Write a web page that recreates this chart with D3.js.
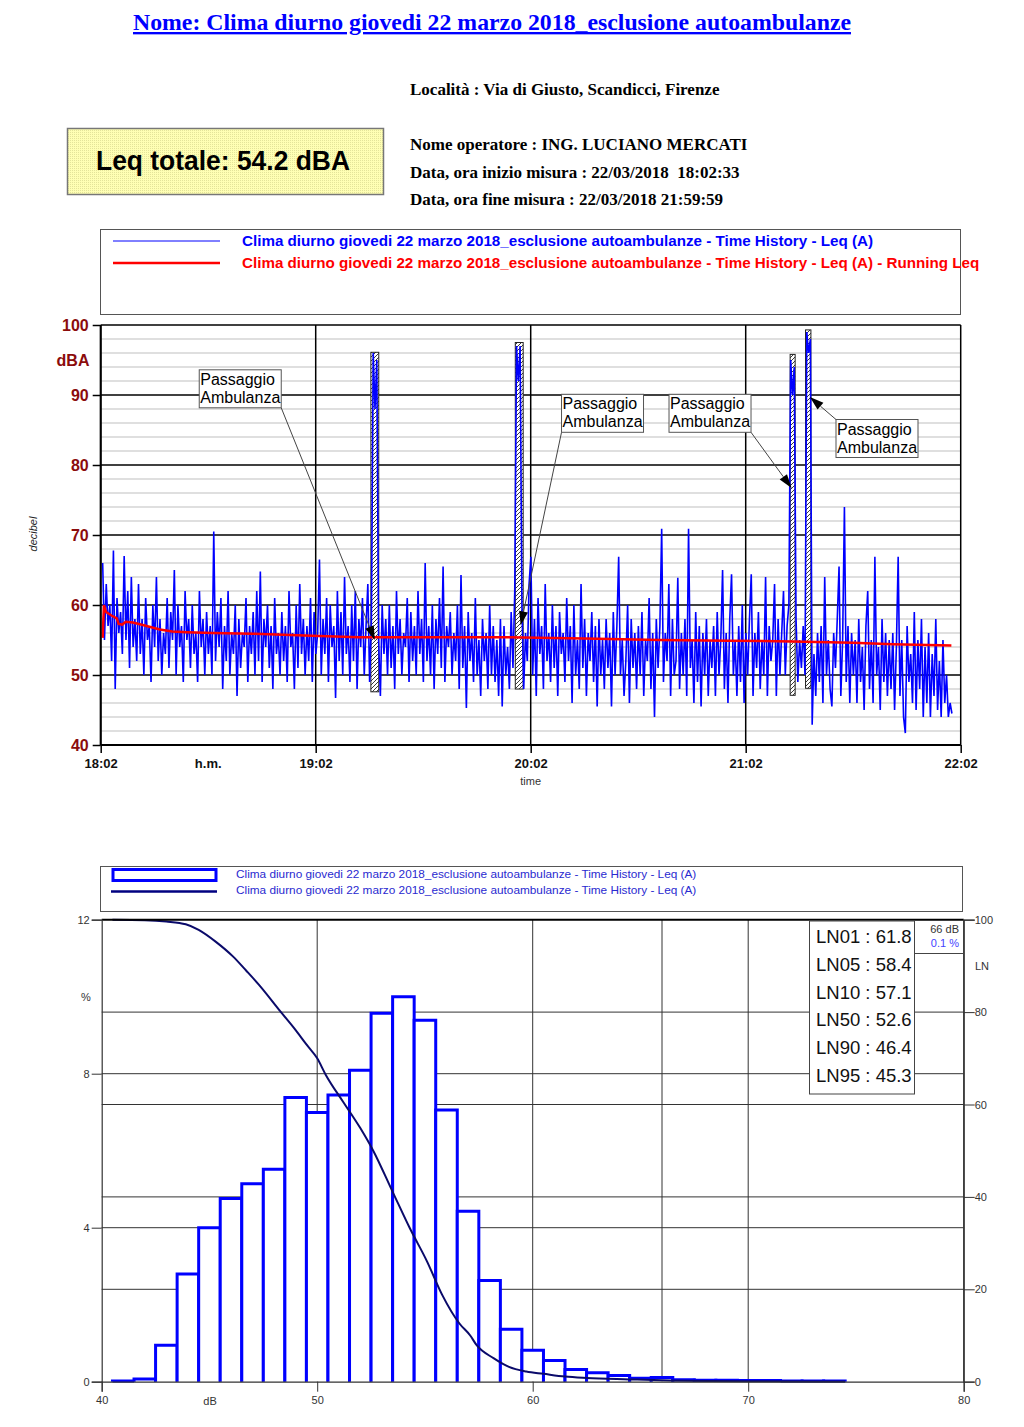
<!DOCTYPE html>
<html><head><meta charset="utf-8">
<script src="https://cdn.jsdelivr.net/npm/d3@7"></script>
<style>body{margin:0;background:#fff}svg{display:block}</style>
</head><body><svg id="c" width="1024" height="1427"></svg>
<script>
// ---------------- DATA ----------------
const titleText = "Nome: Clima diurno giovedi 22 marzo 2018_esclusione autoambulanze";
const infoLines = [
  "Località : Via di Giusto, Scandicci, Firenze",
  "Nome operatore : ING. LUCIANO MERCATI",
  "Data, ora inizio misura : 22/03/2018  18:02:33",
  "Data, ora fine misura : 22/03/2018 21:59:59"
];
const leqTotalText = "Leq totale: 54.2 dBA";
const seriesName = "Clima diurno giovedi 22 marzo 2018_esclusione autoambulanze - Time History - Leq (A)";
const runningName = seriesName + " - Running Leq";

// time axis: minutes after 18:02
const timeTickMinutes = [0, 60, 120, 180, 240];
const timeTickLabels = ["18:02", "19:02", "20:02", "21:02", "22:02"];
const dbTicksTop = [40, 50, 60, 70, 80, 90, 100];

// Time history Leq(A), one value every 30 s from 18:02:33
const thStartMin = 0.55, thStepMin = 0.5;
const thLeq = [
 66,55,63,57,60,52,67.8,48,61,56,59,53,67,55,62,51,64,54,58,52,
 63,53,58,50,61,55,57,49,60,54,64,52,58,50,56,53,61,51,59,55,
 65,50,60,54,57,49,62,55,58,51,60,53,56,49,62,54,58,50,59,53,
 57,50,70.5,52,59,54,61,48,57,52,62,50,56,53,60,47,58,51,56,54,
 61,49,57,53,59,50,62,52,64.8,49,58,54,60,51,57,48,61,53,56,50,
 59,52,57,49,62,54,56,48,60,51,63,53,58,50,57,52,61,49,59,53,
 56,66.5,50,58,53,61,49,60,54,57,46.7,62,52,59,50,64,53,57,49,60,
 52,62,48,58,54,61,50,57,63,49,58,96,88,95,55,47,60,53,58,50,
 60,51,57,48,62,53,58,50,56,54,61,49,59,52,57,50,62,53,58,49,
 66,52,57,50,60,48,58,53,61,51,65.5,49,57,54,59,50,56,52,60,48,
 64.3,51,57,45.3,59,52,56,49,61,50,55,47,58,52,56,48,60,50,57,49,
 55,47,58,45.5,57,50,54,48,59,51,62,97,92,97,60,48,56,52,63,66.9,
 50,58,47,61,53,57,48,63,52,56,49,60,51,57,47,59,53,56,49,61,
 52,57,46,60,50,55,48,63,51,58,47,56,52,59,49,57,45.5,58,50,55,
 48,58,51,56,45.5,59,50,57,66.9,50,55,47,52,60,46,58,51,56,48,57,
 50,59,47,55,52,61,48,56,44,58,51,57,70.9,49,56,52,63,47,58,50,
 52,63.9,48,56,50,58,47,70.9,51,55,46,59,49,57,45.5,56,50,58,47,55,
 51,57,47,59,50,55,65,48,56,46,58,64.4,50,55,47,57,49,60,46,56,
 50,58,64.4,47,56,51,59,48,55,50,64,47,57,52,55,63,47,58,50,56,
 62,50,57,60,95,90,94,58,49,55,51,57,50,99,96,98,42.9,53,47,56,
 49,57,46,64,50,55,48,45.5,56,51,58,65.5,47,55,74,49,57,46,56,50,
 55,46,58,49,54,45,57,62,48,55,46,66.9,50,54,45,58,49,56,47,55,
 48,56,45,54,66.9,47,55,44,41.7,57,49,53,46,59,45,55,48,58,44,54,
 46,56,44,53,47,58,45,52,44,55,46,50,44,46,44.5
];

// Running Leq
const runLeqMin = [0.55,0.9,1.5,3.0,4.5,5.0,6.0,7.0,9.0,12,16.5,20,24,31.3,42.5,59,72,90,113,135,156,175,193,210,221,237.4];
const runLeqVal = [55.3,60.0,59.0,58.5,58.1,57.3,57.2,57.6,57.5,57.1,56.5,56.2,56.1,56.0,55.9,55.6,55.4,55.4,55.4,55.2,55.0,54.9,54.8,54.6,54.4,54.2];

// Excluded (ambulance) periods
const exclStartMin = [75.4, 115.7, 192.4, 196.7];
const exclEndMin   = [77.6, 117.9, 193.8, 198.2];
const exclMinDb    = [47.6, 48.0, 47.1, 48.1];
const exclMaxDb    = [96.1, 97.5, 95.8, 99.3];

// Annotations "Passaggio Ambulanza"
const annLines = ["Passaggio", "Ambulanza"];
const annBoxMin   = [27.5, 128.6, 158.6, 205.2];
const annBoxDb    = [93.6, 90.1, 90.1, 86.5];
const annCorner   = ["br", "bl", "br", "tl"];
const annArrowMin = [76.5, 117.2, 192.8, 197.9];
const annArrowDb  = [55.0, 57.1, 76.7, 89.7];

// Histogram (1 dB classes)
const histDb  = [41,42,43,44,45,46,47,48,49,50,51,52,53,54,55,56,57,58,59,60,61,62,63,64,65,66,67,68,69,70,71,72,73,74];
const histPct = [0.02,0.07,0.95,2.8,4.0,4.76,5.14,5.52,7.38,6.99,7.45,8.09,9.57,10.0,9.39,7.06,4.43,2.63,1.36,0.82,0.55,0.32,0.23,0.16,0.09,0.11,0.05,0.04,0.04,0.03,0.03,0.02,0.02,0.02];

// Cumulative LN curve
const lnCurveDb  = [40.5,42,43,43.9,44.5,45.3,46.1,46.7,47.3,48.3,49.0,49.5,50.0,50.4,51.2,52.0,52.6,53.5,54.3,55.1,55.8,56.6,57.1,57.4,58.2,58.9,59.7,60.5,61.5,62.5,64.5,66,70,74.5];
const lnCurvePct = [100,99.9,99.6,99.0,97.8,95.2,92,89,85.9,80.1,76.1,73,70,66.4,60.6,54.9,50,41.1,33.2,26,18.8,12.6,10,7.9,5.05,3.2,2.2,1.7,1.1,0.8,0.5,0.3,0.1,0.05];

const lnNames  = ["LN01","LN05","LN10","LN50","LN90","LN95"];
const lnValues = [61.8, 58.4, 57.1, 52.6, 46.4, 45.3];
const cursorDb = 66, cursorPct = 0.1;

const pctTicks = [0, 4, 8, 12];
const lnTicks = [0, 20, 40, 60, 80, 100];
const dbTicksBottom = [40, 50, 60, 70, 80];

// ---------------- DRAW ----------------
const SANS = "'Liberation Sans', Arial, sans-serif";
const SERIF = "'Liberation Serif', 'Times New Roman', serif";
const svg = d3.select("#c");
const defs = svg.append("defs");
const dots = defs.append("pattern").attr("id","dots").attr("width",2).attr("height",2).attr("patternUnits","userSpaceOnUse");
dots.append("rect").attr("width",2).attr("height",2).attr("fill","#ffffb4");
dots.append("rect").attr("width",1).attr("height",1).attr("fill","#e4e49a");
const hatch = defs.append("pattern").attr("id","hatch").attr("width",4).attr("height",4).attr("patternUnits","userSpaceOnUse");
hatch.append("rect").attr("width",4).attr("height",4).attr("fill","#fff");
hatch.append("path").attr("d","M-1,1 l2,-2 M0,4 l4,-4 M3,5 l2,-2").attr("stroke","#222").attr("stroke-width",0.9);

// Header
svg.append("text").attr("x",492).attr("y",30).attr("text-anchor","middle")
  .attr("textLength",718).attr("lengthAdjust","spacingAndGlyphs")
  .style("font",`bold 23.5px ${SERIF}`).attr("fill","#0000ff")
  .attr("text-decoration","underline").text(titleText);
const infoY = [95, 150, 178, 205];
infoLines.forEach((t,i)=>{
  svg.append("text").attr("x",410).attr("y",infoY[i]).style("white-space","pre")
    .style("font",`bold 17px ${SERIF}`).attr("fill","#000").text(t);
});
svg.append("rect").attr("x",67.5).attr("y",128.5).attr("width",316).attr("height",66)
  .attr("fill","url(#dots)").attr("stroke","#777").attr("stroke-width",1.5);
svg.append("text").attr("x",223).attr("y",170).attr("text-anchor","middle")
  .attr("textLength",254).attr("lengthAdjust","spacingAndGlyphs")
  .style("font",`bold 27px ${SANS}`).attr("fill","#000").text(leqTotalText);

// ---------- Top chart ----------
const xT = d3.scaleLinear().domain([0,240]).range([100.7,960.7]);
const yT = d3.scaleLinear().domain([40,100]).range([745,325]);

// legend
svg.append("rect").attr("x",100.5).attr("y",229.5).attr("width",860).attr("height",85)
  .attr("fill","#fff").attr("stroke","#555").attr("stroke-width",1);
svg.append("line").attr("x1",113).attr("x2",220).attr("y1",241).attr("y2",241).attr("stroke","#0000ff").attr("stroke-width",1);
svg.append("line").attr("x1",113).attr("x2",220).attr("y1",263).attr("y2",263).attr("stroke","#ff0000").attr("stroke-width",2.5);
svg.append("text").attr("x",242).attr("y",245.5).style("font",`bold 15.2px ${SANS}`).attr("fill","#0000ff").text(seriesName);
svg.append("text").attr("x",242).attr("y",267.5).style("font",`bold 15.2px ${SANS}`).attr("fill","#ff0000").text(runningName);

const gT = svg.append("g");
// minor grid
const minor = d3.range(42,100,2).filter(v=>v%10!==0);
gT.selectAll(".mn").data(minor).join("line")
  .attr("x1",xT(0)).attr("x2",xT(240)).attr("y1",d=>yT(d)).attr("y2",d=>yT(d))
  .attr("stroke","#d4d4d4").attr("stroke-width",1.5);
// major grid
gT.selectAll(".mj").data(dbTicksTop).join("line")
  .attr("x1",xT(0)).attr("x2",xT(240)).attr("y1",d=>yT(d)).attr("y2",d=>yT(d))
  .attr("stroke","#000").attr("stroke-width",1.5);
gT.selectAll(".vg").data(timeTickMinutes).join("line")
  .attr("x1",d=>xT(d)).attr("x2",d=>xT(d)).attr("y1",yT(100)).attr("y2",yT(40))
  .attr("stroke","#000").attr("stroke-width",1.5);

// excluded hatched bars
exclStartMin.forEach((s,i)=>{
  gT.append("rect").attr("x",xT(s)).attr("y",yT(exclMaxDb[i]))
    .attr("width",xT(exclEndMin[i])-xT(s)).attr("height",yT(exclMinDb[i])-yT(exclMaxDb[i]))
    .attr("fill","url(#hatch)").attr("stroke","#222").attr("stroke-width",1);
});

// time history line
const thLine = d3.line().x((d,i)=>xT(thStartMin+i*thStepMin)).y(d=>yT(d));
gT.append("path").datum(thLeq).attr("d",thLine).attr("fill","none")
  .attr("stroke","#0000ff").attr("stroke-width",1.6).attr("stroke-linejoin","miter");

// running Leq
const rl = d3.line().x(d=>xT(d[0])).y(d=>yT(d[1]));
gT.append("path").datum(runLeqMin.map((m,i)=>[m,runLeqVal[i]])).attr("d",rl)
  .attr("fill","none").attr("stroke","#ff0000").attr("stroke-width",2.5);

// axes
const axL = d3.axisLeft(yT).tickValues(dbTicksTop).tickSize(8).tickPadding(4).tickFormat(d3.format("d"));
const gAL = svg.append("g").attr("transform",`translate(${xT(0)},0)`).call(axL);
gAL.select(".domain").remove();
gAL.selectAll(".tick line").attr("stroke","#000").attr("stroke-width",1.5);
gAL.selectAll("text").style("font",`bold 16px ${SANS}`).attr("fill","#8b0c0c");
const axB = d3.axisBottom(xT).tickValues(timeTickMinutes).tickSize(8).tickPadding(6)
  .tickFormat((d,i)=>timeTickLabels[i]);
const gAB = svg.append("g").attr("transform",`translate(0,${yT(40)})`).call(axB);
gAB.select(".domain").remove();
gAB.selectAll(".tick line").attr("stroke","#000").attr("stroke-width",1.5);
gAB.selectAll("text").style("font",`bold 13px ${SANS}`).attr("fill","#111");
// axis lines
svg.append("line").attr("x1",xT(0)).attr("x2",xT(0)).attr("y1",yT(100)).attr("y2",yT(40)).attr("stroke","#000").attr("stroke-width",2);
svg.append("line").attr("x1",xT(0)).attr("x2",xT(240)).attr("y1",yT(40)).attr("y2",yT(40)).attr("stroke","#000").attr("stroke-width",2);
svg.append("text").attr("x",73).attr("y",366).attr("text-anchor","middle").style("font",`bold 16px ${SANS}`).attr("fill","#8b0c0c").text("dBA");
svg.append("text").attr("x",xT(30)).attr("y",yT(40)+23).attr("text-anchor","middle").style("font",`bold 13px ${SANS}`).attr("fill","#111").text("h.m.");
svg.append("text").attr("x",xT(120)).attr("y",785).attr("text-anchor","middle").style("font",`11px ${SANS}`).attr("fill","#333").text("time");
svg.append("text").attr("transform","translate(37,534) rotate(-90)").attr("text-anchor","middle")
  .style("font",`italic 11px ${SANS}`).attr("fill","#222").text("decibel");

// annotations
const boxW = 82, boxH = 38;
annBoxMin.forEach((m,i)=>{
  const bx = xT(m), by = yT(annBoxDb[i]);
  const c = annCorner[i];
  const sx = c[1]==="r" ? bx+boxW : bx;
  const sy = c[0]==="b" ? by+boxH : by;
  const tx = xT(annArrowMin[i]), ty = yT(annArrowDb[i]);
  const ang = Math.atan2(ty-sy, tx-sx);
  const L = 14, Wd = 4.5;
  const bxp = tx - L*Math.cos(ang), byp = ty - L*Math.sin(ang);
  svg.append("line").attr("x1",sx).attr("y1",sy).attr("x2",bxp).attr("y2",byp).attr("stroke","#444").attr("stroke-width",1);
  const p1 = [bxp + Wd*Math.sin(ang), byp - Wd*Math.cos(ang)];
  const p2 = [bxp - Wd*Math.sin(ang), byp + Wd*Math.cos(ang)];
  svg.append("path").attr("d",`M${tx},${ty}L${p1[0]},${p1[1]}L${p2[0]},${p2[1]}Z`).attr("fill","#000");
  svg.append("rect").attr("x",bx).attr("y",by).attr("width",boxW).attr("height",boxH)
    .attr("fill","#fff").attr("stroke","#555").attr("stroke-width",1);
  annLines.forEach((t,j)=>{
    svg.append("text").attr("x",bx+1).attr("y",by+15+j*18).style("font",`16px ${SANS}`).attr("fill","#000").text(t);
  });
});

// ---------- Bottom chart ----------
const xB = d3.scaleLinear().domain([40,80]).range([101.7,963.7]);
const yB = d3.scaleLinear().domain([0,12]).range([1381.7,919.7]);
const yLN = d3.scaleLinear().domain([0,100]).range([1381.7,919.7]);

svg.append("rect").attr("x",100.5).attr("y",866.5).attr("width",862).attr("height",45)
  .attr("fill","#fff").attr("stroke","#555").attr("stroke-width",1);
svg.append("rect").attr("x",113).attr("y",869.5).attr("width",103).attr("height",11)
  .attr("fill","#fff").attr("stroke","#0000ff").attr("stroke-width",3);
svg.append("line").attr("x1",111).attr("x2",217).attr("y1",891.5).attr("y2",891.5).attr("stroke","#000080").attr("stroke-width",2.5);
svg.append("text").attr("x",236).attr("y",877.5).style("font",`11.8px ${SANS}`).attr("fill","#2a2ad0").text(seriesName);
svg.append("text").attr("x",236).attr("y",893.5).style("font",`11.8px ${SANS}`).attr("fill","#2a2ad0").text(seriesName);

const gB = svg.append("g");
// horizontal grid (left % ticks and right LN ticks)
gB.selectAll(".hp").data(pctTicks.filter(v=>v>0&&v<12)).join("line")
  .attr("x1",xB(40)).attr("x2",xB(80)).attr("y1",d=>yB(d)).attr("y2",d=>yB(d)).attr("stroke","#333").attr("stroke-width",1);
gB.selectAll(".hl").data(lnTicks.filter(v=>v>0&&v<100)).join("line")
  .attr("x1",xB(40)).attr("x2",xB(80)).attr("y1",d=>yLN(d)).attr("y2",d=>yLN(d)).attr("stroke","#333").attr("stroke-width",1);
gB.selectAll(".vl").data([50,60,cursorDb,70]).join("line")
  .attr("x1",d=>xB(d)).attr("x2",d=>xB(d)).attr("y1",yB(12)).attr("y2",yB(0)).attr("stroke","#333").attr("stroke-width",1);

// histogram bars (open at bottom)
gB.selectAll(".bar").data(histDb).join("path")
  .attr("d",(d,i)=>`M${xB(d-0.5)},${yB(0)}V${yB(histPct[i])}H${xB(d+0.5)}V${yB(0)}`)
  .attr("fill","#fff").attr("stroke","#0000ff").attr("stroke-width",3);

// cumulative curve
const cl = d3.line().x(d=>xB(d[0])).y(d=>yLN(d[1])).curve(d3.curveMonotoneX);
gB.append("path").datum(lnCurveDb.map((v,i)=>[v,lnCurvePct[i]])).attr("d",cl)
  .attr("fill","none").attr("stroke","#0a0a6a").attr("stroke-width",2);

// frame
svg.append("line").attr("x1",xB(40)).attr("x2",xB(80)).attr("y1",yB(12)).attr("y2",yB(12)).attr("stroke","#000").attr("stroke-width",2);
svg.append("line").attr("x1",xB(80)).attr("x2",xB(80)).attr("y1",yB(12)).attr("y2",yB(0)).attr("stroke","#333").attr("stroke-width",1.2);

// axes
const bAL = svg.append("g").attr("transform",`translate(${xB(40)},0)`)
  .call(d3.axisLeft(yB).tickValues(pctTicks).tickSize(10).tickPadding(2).tickFormat(d3.format("d")));
const bAB = svg.append("g").attr("transform",`translate(0,${yB(0)})`)
  .call(d3.axisBottom(xB).tickValues(dbTicksBottom).tickSize(10).tickPadding(5).tickFormat(d3.format("d")));
const bAR = svg.append("g").attr("transform",`translate(${xB(80)},0)`)
  .call(d3.axisRight(yLN).tickValues(lnTicks).tickSize(11).tickPadding(0).tickFormat(d3.format("d")));
[bAL,bAB,bAR].forEach(g=>{
  g.select(".domain").attr("stroke","#333").attr("stroke-width",1.2);
  g.selectAll(".tick line").attr("stroke","#333");
  g.selectAll("text").style("font",`11px ${SANS}`).attr("fill","#333");
});
svg.append("text").attr("x",86).attr("y",1001).attr("text-anchor","middle").style("font",`11px ${SANS}`).attr("fill","#333").text("%");
svg.append("text").attr("x",210).attr("y",1405).attr("text-anchor","middle").style("font",`11px ${SANS}`).attr("fill","#333").text("dB");
svg.append("text").attr("x",975).attr("y",970).style("font",`11px ${SANS}`).attr("fill","#333").text("LN");

// LN box
svg.append("rect").attr("x",809.5).attr("y",921).attr("width",105).attr("height",173)
  .attr("fill","#fff").attr("stroke","#444").attr("stroke-width",1);
lnNames.forEach((n,i)=>{
  svg.append("text").attr("x",816).attr("y",943.3+i*27.7).style("font",`18.5px ${SANS}`).attr("fill","#111")
    .text(`${n} : ${lnValues[i].toFixed(1)}`);
});
// cursor box
svg.append("path").attr("d",`M${914.5},920V953.5H${xB(80)}`).attr("fill","none").attr("stroke","#444").attr("stroke-width",1);
svg.append("text").attr("x",959).attr("y",933).attr("text-anchor","end").style("font",`11px ${SANS}`).attr("fill","#333").text(`${cursorDb} dB`);
svg.append("text").attr("x",959).attr("y",946.5).attr("text-anchor","end").style("font",`11px ${SANS}`).attr("fill","#4444ff").text(`${cursorPct} %`);
</script></body></html>
